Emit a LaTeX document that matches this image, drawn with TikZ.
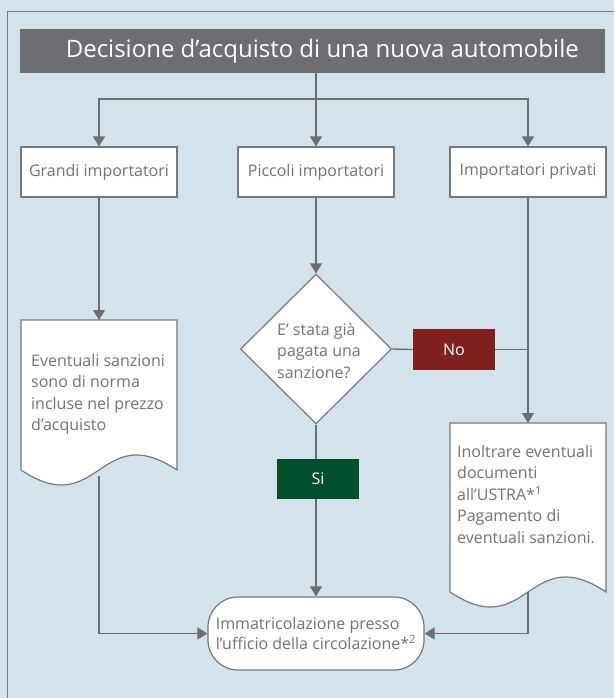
\documentclass[tikz,border=0pt]{standalone}
\usepackage{fontspec}
\setmainfont{Open Sans}
\usetikzlibrary{arrows.meta,shapes.geometric}
\definecolor{bg}{HTML}{D4E3EB}
\definecolor{ln}{HTML}{6D6E71}
\definecolor{bd}{HTML}{77787B}
\definecolor{txt}{HTML}{727376}
\definecolor{nored}{HTML}{80201F}
\definecolor{sigreen}{HTML}{00502E}
\definecolor{titlebg}{HTML}{6D6E71}
\begin{document}
\begin{tikzpicture}[x=1pt,y=-1pt,
  conn/.style={draw=ln,line width=1.3pt,-{Triangle[length=10pt,width=12pt]}},
  plain/.style={draw=ln,line width=1.3pt},
  bodyfont/.style={font=\fontsize{16}{21.5}\selectfont},
  box/.style={draw=bd,fill=white,line width=1.2pt,rectangle,minimum width=156pt,
    minimum height=50pt,bodyfont,text=txt,inner sep=0pt},
  docshape/.style={draw=bd,fill=white,line width=1.2pt},
  doctext/.style={bodyfont,text=txt,align=left,inner sep=0pt},
  decision/.style={diamond,draw=bd,fill=white,line width=1.2pt,minimum width=151pt,
    minimum height=150pt,inner sep=0pt},
  term/.style={rectangle,rounded corners=30pt,draw=bd,fill=white,line width=1.2pt,
    minimum width=216pt,minimum height=73pt,font=\fontsize{16}{20}\selectfont,
    text=txt,align=left,inner sep=0pt},
  tag/.style={rectangle,inner sep=0pt,bodyfont,text=white},
  frame/.style={draw=bd,line width=1pt}
]
\fill[bg] (0,0) rectangle (614,698);
\useasboundingbox (0,0) rectangle (614,698);
\draw[frame] (7,698) -- (7,12) -- (614,12);

% title
\node[fill=titlebg,minimum width=585pt,minimum height=44pt,inner sep=0pt,text=white,
  font=\fontsize{24}{28}\selectfont,anchor=north west] (title) at (19.6,29)
  {\hspace*{20pt}Decisione d’acquisto di una nuova automobile};

% three boxes
\node[box] (gi) at (99,172) {Grandi importatori};
\node[box] (pi) at (316,172) {Piccoli importatori};
\node[box] (ip) at (528,172) {Importatori privati};

% coordinates
\coordinate (j) at (316,99);
\coordinate (gdtop) at (99,320);
\coordinate (gdbot) at (99,476);
\coordinate (pdtop) at (528,423);
\coordinate (pdbot) at (528,591);
\coordinate (nojoin) at (528,349.5);

% decision
\node[decision] (dia) at (316,349) {};

% terminal
\node[term] (term) at (316,633.5) {Immatricolazione presso\\l’ufficio della circolazione*\textsuperscript{2}};

% connectors (drawn before shapes that cover them)
\draw[plain] (title.south -| pi.center) -- (j);
\draw[conn] (j) -| (gi.north);
\draw[conn] (j) -- (pi.north);
\draw[conn] (j) -| (ip.north);
\draw[conn] (gi.south) -- (gdtop);
\draw[conn] (pi.south) -- (dia.north);
\draw[conn] (ip.south) -- (pdtop);
\draw[conn] (dia.south) -- (term.north);
\draw[conn] (gdbot) |- (term.west);
\draw[conn] (pdbot) |- (term.east);

% documents
\draw[docshape] (21,320) -- (177,320) -- (177,470)
  .. controls (99,418) and (99,522) .. (21,470) -- cycle;
\draw[docshape] (450,423) -- (606,423) -- (606,592)
  .. controls (528,540) and (528,644) .. (450,592) -- cycle;

\node[doctext,anchor=north west] (gdtext) at (31,354)
  {Eventuali sanzioni\\sono di norma\\incluse nel prezzo\\d’acquisto};
\node[doctext,anchor=north west] (pdtext) at (457,445)
  {Inoltrare eventuali\\documenti\\all’USTRA*\textsuperscript{1}\\Pagamento di\\eventuali sanzioni.};

% decision text
\node[doctext,anchor=north west] (diatext) at (277,323) {E’ stata già\\pagata una\\sanzione?};

% no / si
\node[tag,fill=nored,minimum width=82pt,minimum height=41pt] (no) at (454,349.5) {No};
\draw[plain] (dia.east) -- (no.west);
\draw[plain] (no.east) -- (nojoin);
\node[tag,fill=sigreen,minimum width=82pt,minimum height=40pt] (si) at (318,479) {Si};
\end{tikzpicture}
\end{document}
